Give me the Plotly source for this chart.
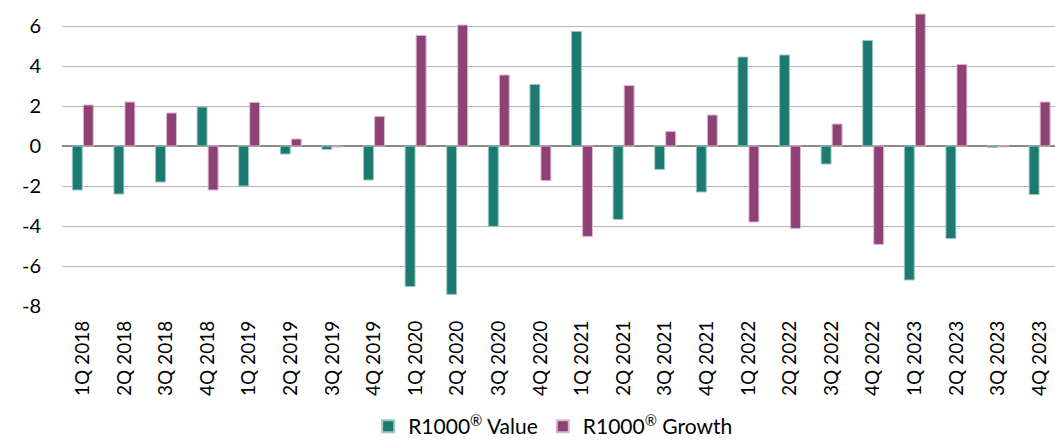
import plotly.graph_objects as go

quarters = ["1Q 2018", "2Q 2018", "3Q 2018", "4Q 2018",
            "1Q 2019", "2Q 2019", "3Q 2019", "4Q 2019",
            "1Q 2020", "2Q 2020", "3Q 2020", "4Q 2020",
            "1Q 2021", "2Q 2021", "3Q 2021", "4Q 2021",
            "1Q 2022", "2Q 2022", "3Q 2022", "4Q 2022",
            "1Q 2023", "2Q 2023", "3Q 2023", "4Q 2023"]

value = [-2.2, -2.4, -1.8, 1.95,
         -2.0, -0.4, -0.17, -1.7,
         -7.03, -7.42, -4.02, 3.08,
         5.73, -3.67, -1.17, -2.3,
         4.45, 4.55, -0.9, 5.28,
         -6.7, -4.63, -0.07, -2.43]

growth = [2.05, 2.2, 1.65, -2.2,
          2.18, 0.35, -0.05, 1.48,
          5.53, 6.05, 3.55, -1.73,
          -4.52, 3.02, 0.73, 1.55,
          -3.8, -4.12, 1.1, -4.92,
          6.6, 4.08, -0.05, 2.2]

y_ticks = [-8, -6, -4, -2, 0, 2, 4, 6]

TEAL = "#1d7a70"
PURPLE = "#8e4176"
FONT = "Lato, 'Open Sans', sans-serif"

fig = go.Figure()
fig.add_trace(go.Bar(
    x=quarters, y=value, name="R1000<sup>®</sup> Value",
    marker=dict(color=TEAL, line=dict(color="#9cc8c2", width=1)),
))
fig.add_trace(go.Bar(
    x=quarters, y=growth, name="R1000<sup>®</sup> Growth",
    marker=dict(color=PURPLE, line=dict(color="#dcb8cf", width=1)),
))

fig.update_layout(
    width=1055, height=442,
    margin=dict(l=62, r=0, t=0, b=136),
    paper_bgcolor="white", plot_bgcolor="white",
    barmode="group", bargap=0.47, bargroupgap=0.1,
    font=dict(family=FONT, size=19, color="#000000"),
    showlegend=True,
    legend=dict(orientation="h", xref="container", yref="container",
                x=0.349, xanchor="left", y=0.035, yanchor="middle",
                font=dict(size=21), itemsizing="constant", traceorder="normal",
                itemwidth=30, tracegroupgap=0),
)
fig.update_xaxes(
    type="category", range=[-0.5, 23.37],
    tickangle=-90, tickfont=dict(size=19),
    showgrid=False, showline=False, ticks="",
    ticklabelstandoff=10, automargin=False,
)
fig.update_yaxes(
    range=[-8, 7.3], tickvals=y_ticks, ticktext=[str(v) for v in y_ticks],
    showgrid=True, gridcolor="#b4b4b4", gridwidth=1,
    zeroline=True, zerolinecolor="#8a8a8a", zerolinewidth=2,
    showline=False, ticks="", tickfont=dict(size=20),
    ticklabelstandoff=20, automargin=False,
)

fig.write_html("out.html", config={"displayModeBar": False})

with open("out.html", "r", encoding="utf-8") as f:
    html = f.read()
html = html.replace("<body>", "<body style=\"margin:0;padding:0;overflow:hidden;\">", 1)
with open("out.html", "w", encoding="utf-8") as f:
    f.write(html)
